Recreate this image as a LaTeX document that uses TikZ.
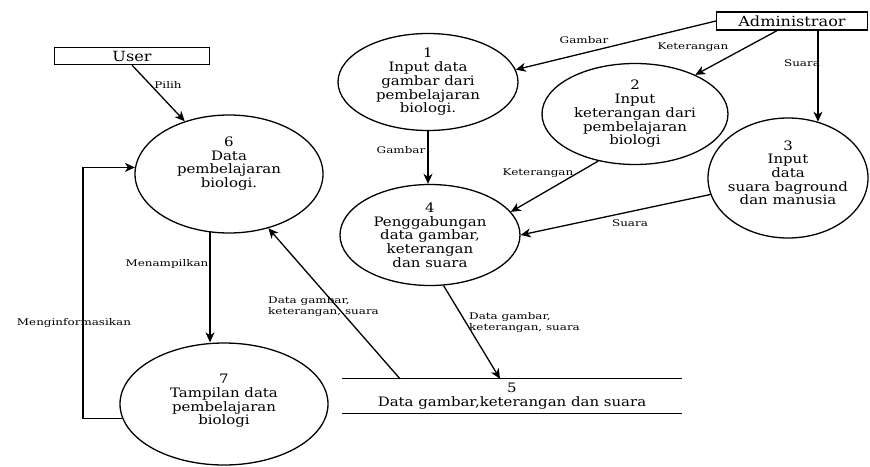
\documentclass[tikz,border=0pt]{standalone}
\usepackage{fontspec}
\setmainfont{DejaVu Serif}[FakeStretch=1.15]
\newfontfamily\lblfont{DejaVu Serif}[FakeStretch=1.3]
\usetikzlibrary{shapes.geometric,arrows.meta}

\begin{document}
\begin{tikzpicture}[x=1pt,y=-1pt,
proc/.style={ellipse, draw, line width=1.3pt, inner sep=0pt, align=center,
    font=\fontsize{13}{13.7}\selectfont},
ent/.style={rectangle, draw, line width=1.3pt, inner sep=0pt,
    font=\fontsize{14}{15}\selectfont},
store/.style={inner sep=0pt, align=center, minimum width=340pt,
    minimum height=34pt, font=\fontsize{13}{14}\selectfont},
flow/.style={-{Stealth[length=10pt,width=9pt,inset=3pt]}, line width=1.3pt},
lbl/.style={inner sep=0pt, align=left, font=\lblfont\fontsize{9.2}{11.8}\selectfont}]
\useasboundingbox (0,0) rectangle (870,466);

% external entities
\node[ent, minimum width=155pt, minimum height=17pt] (user) at (132,56) {User};
\node[ent, minimum width=151pt, minimum height=18pt] (admin) at (792,21) {Administraor};

% processes
\node[proc, minimum width=180pt, minimum height=97pt] (p1) at (428,82)
    {1\\Input data\\gambar dari\\pembelajaran\\biologi.};
\node[proc, minimum width=186pt, minimum height=101pt] (p2) at (635,114)
    {2\\Input\\keterangan dari\\pembelajaran\\biologi};
\node[proc, inner xsep=-12pt, minimum width=160pt, minimum height=120pt] (p3) at (788,178)
    {3\\Input\\data\\suara baground\\dan manusia\\[-3pt]\mbox{}};
\node[proc, minimum width=180pt, minimum height=101pt] (p4) at (430,235)
    {4\\Penggabungan\\data gambar,\\keterangan\\dan suara};
\node[proc, minimum width=188pt, minimum height=118pt] (p6) at (229,174)
    {6\\Data\\pembelajaran\\biologi.\\[10pt]\mbox{}};
\node[proc, minimum width=208pt, minimum height=122pt] (p7) at (224,404)
    {7\\Tampilan data\\pembelajaran\\biologi\\[-5pt]\mbox{}};

% data store
\node[store] (s5) at (512,396) {5\\Data gambar,keterangan dan suara};
\draw[line width=1.3pt] (s5.north west) -- (s5.north east);
\draw[line width=1.3pt] (s5.south west) -- (s5.south east);

% flows
\coordinate (fb) at (83,0);
\draw[flow] (user.south) -- (p6.130);
\draw[flow] (admin.west) -- (p1.8);
\draw[flow] ([xshift=-15pt]admin.south) -- (p2.33);
\draw[flow] (admin.south -| p3.62) -- (p3.62);
\draw[flow] (p1.south) -- (p1.south |- p4.north);
\draw[flow] (p2.232) -- (p4.16);
\draw[flow] (p3.192) -- (p4.east);
\draw[flow] (p4.285) -- ([xshift=-12pt]s5.north);
\draw[flow] ([xshift=-112pt]s5.north) -- (p6.306);
\draw[flow] (p6.252) -- (p6.252 |- p7.north);
\draw[flow] (p7.188) -| (fb |- p6.176) -- (p6.176);

% flow labels
\node[lbl] (lpilih) at (168,85) {Pilih};
\node[lbl] (lgbr1) at (584,40) {Gambar};
\node[lbl] (lket1) at (693,47) {Keterangan};
\node[lbl] (lsua1) at (802,63) {Suara};
\node[lbl] (lgbr2) at (401,150) {Gambar};
\node[lbl] (lket2) at (538,173) {Keterangan};
\node[lbl] (lsua2) at (630,223) {Suara};
\node[lbl, anchor=north west] (ldata1) at (469,312) {Data gambar,\\keterangan, suara};
\node[lbl, anchor=north west] (ldata2) at (268,296) {Data gambar,\\keterangan, suara};
\node[lbl] (ltampil) at (167,264) {Menampilkan};
\node[lbl] (linfo) at (74,323) {Menginformasikan};
\end{tikzpicture}
\end{document}
